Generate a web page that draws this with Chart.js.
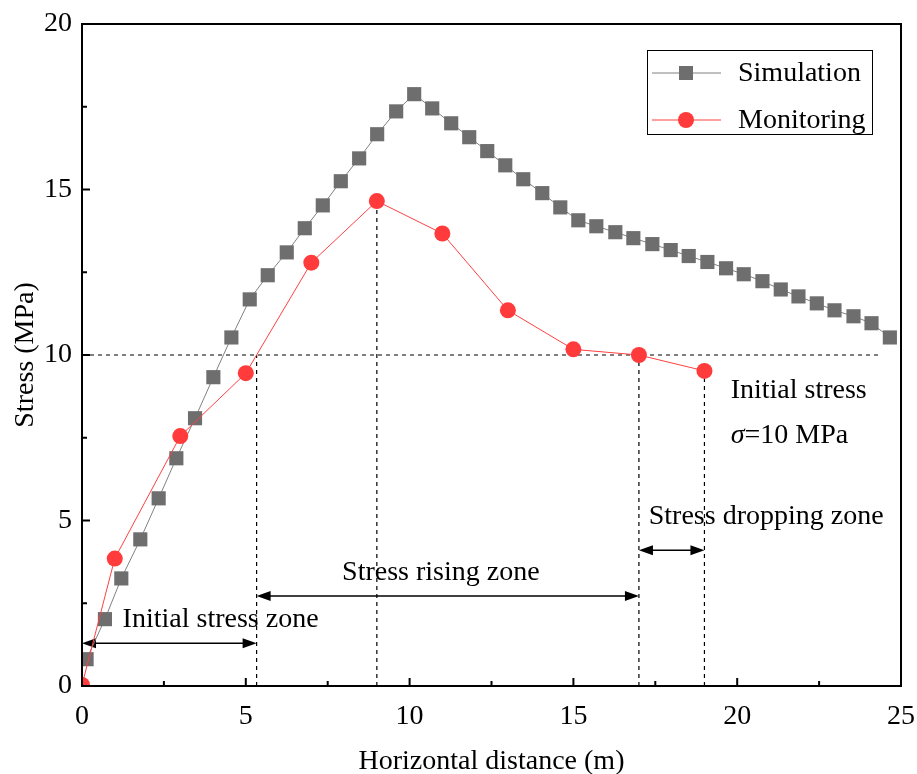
<!DOCTYPE html>
<html>
<head>
<meta charset="utf-8">
<script src="https://cdn.jsdelivr.net/npm/chart.js@4.4.1/dist/chart.umd.min.js"></script>
<style>
  html, body { margin: 0; padding: 0; background: #fff; }
  #myChart { display: block; }
</style>
</head>
<body>
<canvas id="myChart" width="917" height="774"></canvas>
<script>
// Simulation curve
const simX = [0.14, 0.70, 1.20, 1.78, 2.34, 2.88, 3.45, 4.01, 4.56, 5.12,
              5.67, 6.25, 6.80, 7.35, 7.90, 8.46, 9.01, 9.59, 10.14, 10.69,
              11.27, 11.82, 12.37, 12.92, 13.47, 14.05, 14.60, 15.15, 15.70, 16.28,
              16.83, 17.41, 17.97, 18.52, 19.09, 19.66, 20.20, 20.77, 21.33, 21.87,
              22.43, 22.97, 23.55, 24.10, 24.66];
const simY = [0.81, 2.02, 3.25, 4.43, 5.67, 6.88, 8.09, 9.33, 10.53, 11.68,
              12.41, 13.10, 13.83, 14.52, 15.25, 15.94, 16.67, 17.36, 17.88, 17.45,
              17.00, 16.58, 16.16, 15.73, 15.31, 14.89, 14.46, 14.07, 13.89, 13.71,
              13.53, 13.35, 13.17, 12.99, 12.81, 12.62, 12.44, 12.23, 11.98, 11.77,
              11.56, 11.35, 11.17, 10.96, 10.53];

// Monitoring points
const monX = [0, 1, 3, 5, 7, 9, 11, 13, 15, 17, 19];
const monY = [0.03, 3.85, 7.55, 9.45, 12.79, 14.65, 13.67, 11.35, 10.17, 10.0, 9.52];

const xTicks = [0, 5, 10, 15, 20, 25];
const yTicks = [0, 5, 10, 15, 20];

// zone borders and annotation values
const initialStress = 10;
const zoneBounds = [0, 5.33, 17, 19];
const arrowLevels = [1.29, 2.72, 4.1];

const FONT = '"Liberation Serif", "Times New Roman", serif';

const simData = simX.map((x, i) => ({ x: x, y: simY[i] }));
const monData = monX.map((x, i) => ({ x: x, y: monY[i] }));

function arrow(c, x1, x2, y) {
    // double headed horizontal arrow
    const hl = 14, hw = 5;
    c.beginPath();
    c.moveTo(x1 + hl - 2, y);
    c.lineTo(x2 - hl + 2, y);
    c.stroke();
    c.beginPath();
    c.moveTo(x1, y);
    c.lineTo(x1 + hl, y - hw);
    c.lineTo(x1 + hl, y + hw);
    c.closePath();
    c.fill();
    c.beginPath();
    c.moveTo(x2, y);
    c.lineTo(x2 - hl, y - hw);
    c.lineTo(x2 - hl, y + hw);
    c.closePath();
    c.fill();
}

const extras = {
    id: 'extras',
    beforeDatasetsDraw(chart) {
        const c = chart.ctx;
        const xs = chart.scales.x, ys = chart.scales.y;
        const px = v => xs.getPixelForValue(v);
        const py = v => ys.getPixelForValue(v);
        c.save();
        // dashed guide lines
        c.strokeStyle = '#000';
        c.lineWidth = 1.2;
        c.setLineDash([4, 4]);
        c.beginPath();
        c.moveTo(px(0), py(initialStress));
        c.lineTo(px(24.3), py(initialStress));
        c.moveTo(px(zoneBounds[1]), py(0));
        c.lineTo(px(zoneBounds[1]), py(initialStress));
        c.moveTo(px(monX[5]), py(0));
        c.lineTo(px(monX[5]), py(monY[5]));
        c.moveTo(px(zoneBounds[2]), py(0));
        c.lineTo(px(zoneBounds[2]), py(monY[9]));
        c.moveTo(px(zoneBounds[3]), py(0));
        c.lineTo(px(zoneBounds[3]), py(monY[10]));
        c.stroke();
        c.setLineDash([]);

        // zone arrows
        c.fillStyle = '#000';
        c.lineWidth = 1.5;
        for (let i = 0; i < 3; i++) {
            arrow(c, px(zoneBounds[i]), px(zoneBounds[i + 1]), py(arrowLevels[i]));
        }

        // texts
        c.font = '28px ' + FONT;
        c.textBaseline = 'middle';
        c.textAlign = 'left';
        c.fillText('Initial stress zone', px(1.24), py(2.0));
        c.fillText('Stress rising zone', px(7.94), py(3.43));
        c.fillText('Stress dropping zone', px(17.3), py(5.13));
        c.fillText('Initial stress', px(19.8), py(8.93));
        c.font = 'italic 28px ' + FONT;
        c.fillText('\u03c3', px(19.8), py(7.57));
        const w = c.measureText('\u03c3').width;
        c.font = '28px ' + FONT;
        c.fillText('=10 MPa', px(19.8) + w, py(7.57));
        c.restore();
    },
    afterDraw(chart) {
        const c = chart.ctx;
        const a = chart.chartArea;
        const xs = chart.scales.x, ys = chart.scales.y;
        c.save();
        // frame
        c.strokeStyle = '#000';
        c.lineWidth = 2;
        c.strokeRect(a.left, a.top, a.right - a.left, a.bottom - a.top);
        // inward ticks, major + minor
        c.beginPath();
        for (let v = 0; v <= 25; v += 2.5) {
            const x = xs.getPixelForValue(v);
            const len = (v % 5 === 0) ? 8 : 5;
            c.moveTo(x, a.bottom);
            c.lineTo(x, a.bottom - len);
        }
        for (let v = 0; v <= 20; v += 2.5) {
            const y = ys.getPixelForValue(v);
            const len = (v % 5 === 0) ? 8 : 5;
            c.moveTo(a.left, y);
            c.lineTo(a.left + len, y);
        }
        c.stroke();

        // legend
        const lx = 647, ly = 50, lw = 225, lh = 84;
        c.lineWidth = 1;
        c.fillStyle = '#fff';
        c.fillRect(lx, ly, lw, lh);
        c.strokeRect(lx + 0.5, ly + 0.5, lw, lh);
        const rows = [
            { y: 73, label: 'Simulation', line: '#808080', fill: '#6e6e6e', shape: 'sq' },
            { y: 120, label: 'Monitoring', line: '#ff4040', fill: '#ff3b3b', shape: 'ci' }
        ];
        rows.forEach(r => {
            c.strokeStyle = r.line;
            c.lineWidth = 1;
            c.beginPath();
            c.moveTo(652, r.y);
            c.lineTo(721, r.y);
            c.stroke();
            c.fillStyle = r.fill;
            if (r.shape === 'sq') {
                c.fillRect(686 - 7, r.y - 7, 14, 14);
            } else {
                c.beginPath();
                c.arc(686, r.y, 8, 0, Math.PI * 2);
                c.fill();
            }
            c.fillStyle = '#000';
            c.font = '28px ' + FONT;
            c.textAlign = 'left';
            c.textBaseline = 'middle';
            c.fillText(r.label, 738, r.y + 1);
        });
        c.restore();
    }
};

const ctx = document.getElementById('myChart');
const myChart = new Chart(ctx, {
    type: 'scatter',
    data: {
        datasets: [{
            label: 'Simulation',
            data: simData,
            showLine: true,
            borderColor: '#808080',
            borderWidth: 1,
            backgroundColor: '#6e6e6e',
            pointStyle: 'rect',
            pointRadius: 10,
            pointBorderWidth: 0,
            order: 2
        }, {
            label: 'Monitoring',
            data: monData,
            showLine: true,
            borderColor: '#ff4040',
            borderWidth: 1,
            backgroundColor: '#ff3b3b',
            pointStyle: 'circle',
            pointRadius: 8,
            pointBorderWidth: 0,
            order: 1
        }]
    },
    options: {
        responsive: false,
        devicePixelRatio: 1,
        animation: false,
        layout: { padding: { top: 24, right: 16, left: 0, bottom: 0 } },
        plugins: {
            legend: { display: false },
            tooltip: { enabled: false }
        },
        scales: {
            x: {
                type: 'linear',
                min: 0,
                max: 25,
                afterBuildTicks: s => { s.ticks = xTicks.map(v => ({ value: v })); },
                afterFit: s => { s.height = 88; s.paddingRight = 0; s.paddingLeft = 0; },
                grid: { display: false },
                border: { display: false },
                ticks: { color: '#000', font: { family: FONT, size: 28 }, padding: 6 },
                title: {
                    display: true,
                    text: 'Horizontal distance (m)',
                    color: '#000',
                    font: { family: FONT, size: 28 },
                    padding: { top: 0, bottom: -4 }
                }
            },
            y: {
                type: 'linear',
                min: 0,
                max: 20,
                afterBuildTicks: s => { s.ticks = yTicks.map(v => ({ value: v })); },
                afterFit: s => { s.width = 82; },
                grid: { display: false },
                border: { display: false },
                ticks: { color: '#000', font: { family: FONT, size: 28 }, padding: 2 },
                title: {
                    display: true,
                    text: 'Stress (MPa)',
                    color: '#000',
                    font: { family: FONT, size: 28 },
                    padding: { top: 9, bottom: 0 }
                }
            }
        }
    },
    plugins: [extras]
});
</script>
</body>
</html>
